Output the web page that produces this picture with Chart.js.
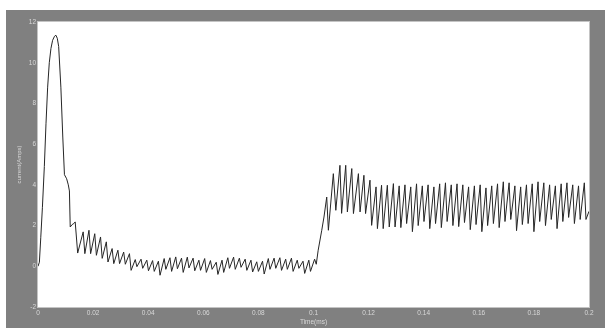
<!DOCTYPE html>
<html>
<head>
<meta charset="utf-8">
<script src="https://cdn.jsdelivr.net/npm/chart.js@4.4.1/dist/chart.umd.min.js"></script>
<style>
    body { margin: 0; background: #ffffff; }
    #panel { position: absolute; left: 6px; top: 10px; width: 599px; height: 318px; background: #808080; }
    #current-chart { display: block; }
</style>
</head>
<body>
<div id="panel">
    <canvas id="current-chart" width="599" height="318"></canvas>
</div>
<script>
// start-up spike (time in ms, current in A)
const startTime = [0, 0.0005, 0.0010, 0.0016, 0.0023, 0.0029, 0.0035, 0.0041, 0.0047, 0.0053, 0.0060, 0.0065, 0.0070, 0.0075, 0.0083, 0.0090, 0.0096, 0.0104, 0.0110, 0.0114, 0.0117, 0.0124, 0.0130, 0.0135, 0.0144];
const startCurrent = [0, 0.2, 1.4, 2.9, 4.9, 7.0, 8.8, 10.0, 10.7, 11.1, 11.3, 11.35, 11.2, 10.8, 8.8, 6.35, 4.5, 4.3, 4.0, 3.7, 1.93, 2.05, 2.1, 2.18, 0.65];

// low-current ripple up to the step (peak, trough, peak, trough ...)
const rippleTime = [
    0.0164, 0.0170, 0.0185, 0.0191, 0.0206, 0.0212, 0.0227, 0.0233, 0.0248, 0.0254,
    0.0269, 0.0275, 0.0290, 0.0296, 0.0311, 0.0317, 0.0332, 0.0338, 0.0353, 0.0359,
    0.0374, 0.0380, 0.0395, 0.0401, 0.0416, 0.0422, 0.0437, 0.0443, 0.0458, 0.0464,
    0.0479, 0.0485, 0.0500, 0.0506, 0.0521, 0.0527, 0.0542, 0.0548, 0.0563, 0.0569,
    0.0584, 0.0590, 0.0605, 0.0611, 0.0626, 0.0632, 0.0647, 0.0653, 0.0668, 0.0674,
    0.0689, 0.0695, 0.0710, 0.0716, 0.0731, 0.0737, 0.0752, 0.0758, 0.0773, 0.0779,
    0.0794, 0.0800, 0.0815, 0.0821, 0.0836, 0.0842, 0.0857, 0.0863, 0.0878, 0.0884,
    0.0899, 0.0905, 0.0920, 0.0926, 0.0941, 0.0947, 0.0962, 0.0968, 0.0983, 0.0989,
    0.1004, 0.1010
];
const rippleCurrent = [
    1.69, 0.62, 1.77, 0.62, 1.60, 0.54, 1.44, 0.39, 1.20, 0.21,
    0.87, 0.13, 0.79, 0.13, 0.70, 0.10, 0.62, -0.20, 0.33, -0.02,
    0.35, -0.10, 0.30, -0.22, 0.28, -0.25, 0.25, -0.44, 0.38, -0.15,
    0.42, -0.25, 0.46, -0.12, 0.40, -0.30, 0.45, -0.08, 0.40, -0.22,
    0.30, -0.20, 0.38, -0.30, 0.28, -0.15, 0.20, -0.40, 0.30, -0.30,
    0.42, -0.10, 0.45, -0.15, 0.40, -0.05, 0.35, -0.20, 0.30, -0.28,
    0.22, -0.25, 0.25, -0.38, 0.38, -0.15, 0.40, -0.10, 0.42, -0.20,
    0.35, -0.15, 0.40, -0.25, 0.30, -0.10, 0.25, -0.35, 0.30, -0.25,
    0.35, 0.10
];

// step up and overshoot after t = 0.1
const stepTime = [0.1017, 0.1030, 0.1038, 0.1048, 0.1054, 0.1072, 0.1081, 0.1096, 0.1102, 0.1117, 0.1123, 0.1139, 0.1145, 0.1163, 0.1169, 0.1183, 0.1189, 0.1205, 0.1211, 0.1227, 0.1232, 0.1247, 0.1253, 0.1268, 0.1275, 0.1290, 0.1296];
const stepCurrent = [0.79, 1.77, 2.42, 3.40, 1.77, 4.55, 2.75, 4.96, 2.60, 4.96, 2.67, 4.80, 2.59, 4.55, 2.67, 4.47, 2.59, 4.23, 2.01, 3.90, 1.85, 3.98, 1.85, 3.98, 1.93, 4.06, 1.93];

// steady state ripple to the end (peak, trough ...)
const steadyTime = [
    0.1311, 0.1317, 0.1332, 0.1338, 0.1353, 0.1359, 0.1374, 0.1380, 0.1395, 0.1401,
    0.1416, 0.1422, 0.1437, 0.1443, 0.1458, 0.1464, 0.1479, 0.1485, 0.1500, 0.1506,
    0.1521, 0.1527, 0.1542, 0.1548, 0.1563, 0.1569, 0.1584, 0.1590, 0.1605, 0.1611,
    0.1626, 0.1632, 0.1647, 0.1653, 0.1668, 0.1674, 0.1689, 0.1695, 0.1710, 0.1716,
    0.1731, 0.1737, 0.1752, 0.1758, 0.1773, 0.1779, 0.1794, 0.1800, 0.1815, 0.1821,
    0.1836, 0.1842, 0.1857, 0.1863, 0.1878, 0.1884, 0.1899, 0.1905, 0.1920, 0.1926,
    0.1941, 0.1947, 0.1962, 0.1968, 0.1983, 0.1989, 0.2000
];
const steadyCurrent = [
    3.95, 1.90, 4.00, 2.10, 3.90, 1.70, 4.05, 2.00, 3.95, 2.20,
    4.00, 1.85, 3.90, 2.10, 4.05, 1.90, 4.10, 2.20, 4.00, 2.00,
    4.05, 1.95, 4.00, 2.15, 3.90, 1.80, 3.95, 2.05, 4.00, 1.70,
    3.85, 2.00, 3.95, 2.10, 4.05, 1.90, 4.15, 2.20, 4.10, 2.30,
    3.95, 1.75, 3.90, 2.05, 4.00, 2.10, 4.05, 1.70, 4.15, 2.20,
    4.10, 2.00, 4.00, 2.30, 3.95, 1.85, 4.05, 2.20, 4.10, 2.40,
    4.00, 2.10, 3.95, 2.30, 4.10, 2.30, 2.70
];

// axis ticks
const timeTicks = [0, 0.02, 0.04, 0.06, 0.08, 0.1, 0.12, 0.14, 0.16, 0.18, 0.2];
const timeTickLabels = ['0', '0.02', '0.04', '0.06', '0.08', '0.1', '0.12', '0.14', '0.16', '0.18', '0.2'];
const currentTicks = [-2, 0, 2, 4, 6, 8, 10, 12];
const currentTickLabels = ['-2', '0', '2', '4', '6', '8', '10', '12'];

document.addEventListener('DOMContentLoaded', () => {
    const chartCanvas = document.getElementById('current-chart');

    const allTime = [...startTime, ...rippleTime, ...stepTime, ...steadyTime];
    const allCurrent = [...startCurrent, ...rippleCurrent, ...stepCurrent, ...steadyCurrent];
    const points = allTime.map((t, i) => ({ x: t, y: allCurrent[i] }));

    const tickFont = { family: 'Liberation Sans, Arial, sans-serif', size: 6.5 };
    const labelColor = '#d8d8d8';

    // white plot area with a light frame, like the original figure
    const plotBox = {
        id: 'plotBox',
        beforeDraw(chart) {
            const { ctx, chartArea: a } = chart;
            ctx.save();
            ctx.fillStyle = '#ffffff';
            ctx.fillRect(a.left, a.top, a.right - a.left, a.bottom - a.top);
            ctx.restore();
        },
        afterDraw(chart) {
            const { ctx, chartArea: a } = chart;
            ctx.save();
            ctx.strokeStyle = '#c4c4c4';
            ctx.lineWidth = 1;
            ctx.strokeRect(a.left - 0.5, a.top - 0.5, a.right - a.left + 1, a.bottom - a.top + 1);
            ctx.restore();
        }
    };

    new Chart(chartCanvas, {
        type: 'line',
        data: {
            datasets: [{
                label: 'current',
                data: points,
                borderColor: '#262626',
                borderWidth: 1,
                fill: false,
                tension: 0,
                pointRadius: 0
            }]
        },
        options: {
            responsive: false,
            animation: false,
            devicePixelRatio: 1,
            layout: { padding: { left: 0, right: 16, top: 12, bottom: 0 } },
            plugins: {
                legend: { display: false },
                tooltip: { enabled: false }
            },
            scales: {
                x: {
                    type: 'linear',
                    min: 0,
                    max: 0.2,
                    grid: { display: false, drawTicks: false },
                    border: { display: false },
                    afterBuildTicks: scale => { scale.ticks = timeTicks.map(v => ({ value: v })); },
                    afterFit: scale => { scale.height = 21; },
                    ticks: {
                        color: labelColor,
                        font: tickFont,
                        padding: 2,
                        maxRotation: 0,
                        autoSkip: false,
                        callback: value => timeTickLabels[timeTicks.indexOf(value)]
                    },
                    title: {
                        display: true,
                        text: 'Time(ms)',
                        color: labelColor,
                        font: { family: 'Liberation Sans, Arial, sans-serif', size: 6.5 },
                        padding: { top: 0, bottom: 2 }
                    }
                },
                y: {
                    min: -2,
                    max: 12,
                    grid: { display: false, drawTicks: false },
                    border: { display: false },
                    afterBuildTicks: scale => { scale.ticks = currentTicks.map(v => ({ value: v })); },
                    afterFit: scale => { scale.width = 32; },
                    ticks: {
                        color: labelColor,
                        font: tickFont,
                        padding: 2,
                        autoSkip: false,
                        callback: value => currentTickLabels[currentTicks.indexOf(value)]
                    },
                    title: {
                        display: true,
                        text: 'current(Amps)',
                        color: labelColor,
                        font: { family: 'Liberation Sans, Arial, sans-serif', size: 6 },
                        padding: { top: 10, bottom: 0 }
                    }
                }
            }
        },
        plugins: [plotBox]
    });
});
</script>
</body>
</html>
